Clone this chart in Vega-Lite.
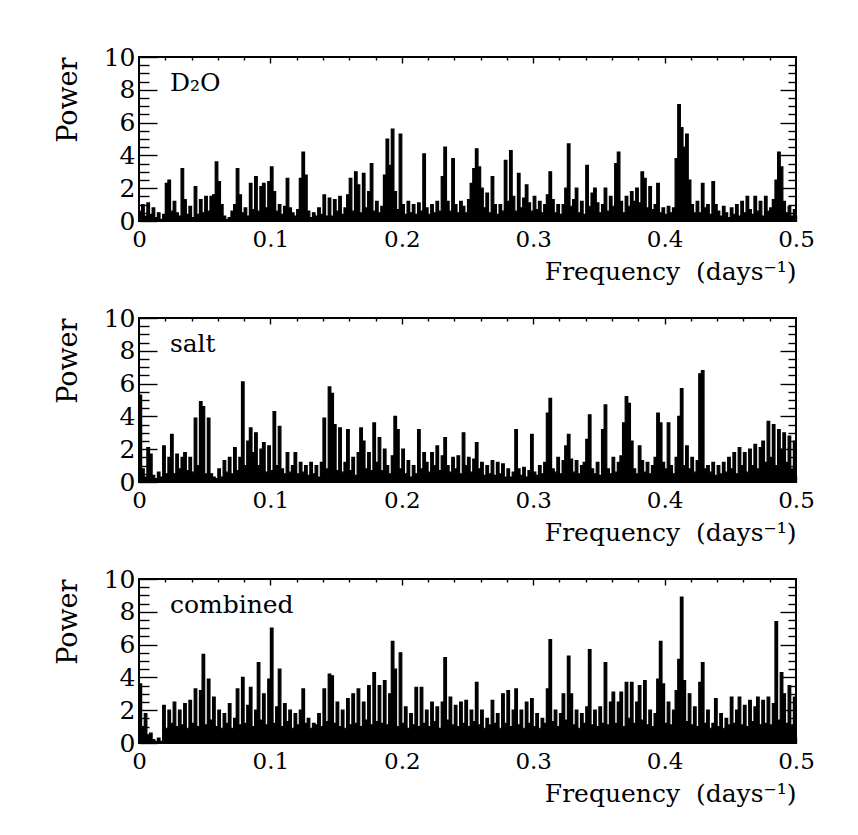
{
"$schema": "https://vega.github.io/schema/vega-lite/v6.json",
"background": "white",
"padding": {"left": 53, "top": 44, "right": 10, "bottom": 10},
"config": {
  "font": "DejaVu Serif",
  "view": {"stroke": "black", "strokeWidth": 2},
  "axis": {"grid": false, "domain": false, "tickColor": "black", "tickWidth": 1.4, "labelColor": "black", "titleColor": "black", "labelFont": "DejaVu Serif", "titleFont": "DejaVu Serif", "titleFontWeight": "normal", "labelFlush": false, "labelOverlap": false, "labelBound": false}
},
"datasets": {
"d2o": [
{"f":0.000,"p":0.6},{"f":0.002,"p":1.0},{"f":0.004,"p":0.3},{"f":0.006,"p":1.1},{"f":0.008,"p":0.4},{"f":0.010,"p":0.8},{"f":0.012,"p":0.2},{"f":0.014,"p":0.5},{"f":0.016,"p":0.1},{"f":0.018,"p":0.4},
{"f":0.020,"p":2.3},{"f":0.022,"p":2.5},{"f":0.024,"p":0.6},{"f":0.026,"p":1.2},{"f":0.028,"p":0.5},{"f":0.030,"p":0.3},{"f":0.032,"p":3.2},{"f":0.034,"p":1.3},{"f":0.036,"p":0.4},{"f":0.038,"p":0.9},
{"f":0.040,"p":0.2},{"f":0.042,"p":2.1},{"f":0.044,"p":0.4},{"f":0.046,"p":1.3},{"f":0.048,"p":0.5},{"f":0.050,"p":1.5},{"f":0.052,"p":0.6},{"f":0.054,"p":1.5},{"f":0.056,"p":1.6},{"f":0.058,"p":3.6},
{"f":0.060,"p":2.4},{"f":0.062,"p":1.0},{"f":0.064,"p":0.3},{"f":0.066,"p":0.1},{"f":0.068,"p":0.2},{"f":0.070,"p":0.6},{"f":0.072,"p":1.0},{"f":0.074,"p":3.2},{"f":0.076,"p":1.6},{"f":0.078,"p":0.5},
{"f":0.080,"p":0.8},{"f":0.082,"p":0.3},{"f":0.084,"p":2.3},{"f":0.086,"p":0.7},{"f":0.088,"p":2.7},{"f":0.090,"p":0.6},{"f":0.092,"p":2.1},{"f":0.094,"p":2.3},{"f":0.096,"p":0.8},{"f":0.098,"p":2.4},
{"f":0.100,"p":3.3},{"f":0.102,"p":1.8},{"f":0.104,"p":0.6},{"f":0.106,"p":1.0},{"f":0.108,"p":0.4},{"f":0.110,"p":0.9},{"f":0.112,"p":2.6},{"f":0.114,"p":0.8},{"f":0.116,"p":0.5},{"f":0.118,"p":0.3},
{"f":0.120,"p":0.7},{"f":0.122,"p":2.6},{"f":0.124,"p":4.2},{"f":0.126,"p":2.8},{"f":0.128,"p":0.6},{"f":0.130,"p":0.2},{"f":0.132,"p":0.5},{"f":0.134,"p":0.3},{"f":0.136,"p":0.8},{"f":0.138,"p":0.4},
{"f":0.140,"p":1.6},{"f":0.142,"p":0.3},{"f":0.144,"p":1.4},{"f":0.146,"p":0.3},{"f":0.148,"p":1.3},{"f":0.150,"p":0.6},{"f":0.152,"p":1.5},{"f":0.154,"p":0.4},{"f":0.156,"p":0.8},{"f":0.158,"p":1.6},
{"f":0.160,"p":2.6},{"f":0.162,"p":0.6},{"f":0.164,"p":3.0},{"f":0.166,"p":2.2},{"f":0.168,"p":0.5},{"f":0.170,"p":2.9},{"f":0.172,"p":0.8},{"f":0.174,"p":1.8},{"f":0.176,"p":3.5},{"f":0.178,"p":0.6},
{"f":0.180,"p":1.2},{"f":0.182,"p":0.5},{"f":0.184,"p":0.9},{"f":0.186,"p":2.8},{"f":0.188,"p":5.0},{"f":0.190,"p":3.4},{"f":0.192,"p":5.6},{"f":0.194,"p":1.8},{"f":0.196,"p":0.7},{"f":0.198,"p":5.3},
{"f":0.200,"p":1.0},{"f":0.202,"p":0.4},{"f":0.204,"p":1.2},{"f":0.206,"p":0.5},{"f":0.208,"p":1.0},{"f":0.210,"p":0.4},{"f":0.212,"p":1.1},{"f":0.214,"p":0.6},{"f":0.216,"p":4.1},{"f":0.218,"p":0.8},
{"f":0.220,"p":0.4},{"f":0.222,"p":1.0},{"f":0.224,"p":0.5},{"f":0.226,"p":1.2},{"f":0.228,"p":0.6},{"f":0.230,"p":2.7},{"f":0.232,"p":4.5},{"f":0.234,"p":1.2},{"f":0.236,"p":0.6},{"f":0.238,"p":3.8},
{"f":0.240,"p":1.0},{"f":0.242,"p":0.5},{"f":0.244,"p":1.2},{"f":0.246,"p":0.9},{"f":0.248,"p":0.5},{"f":0.250,"p":1.3},{"f":0.252,"p":2.3},{"f":0.254,"p":3.2},{"f":0.256,"p":4.4},{"f":0.258,"p":3.3},
{"f":0.260,"p":2.0},{"f":0.262,"p":0.8},{"f":0.264,"p":1.7},{"f":0.266,"p":0.5},{"f":0.268,"p":2.7},{"f":0.270,"p":1.0},{"f":0.272,"p":0.4},{"f":0.274,"p":1.0},{"f":0.276,"p":0.6},{"f":0.278,"p":3.7},
{"f":0.280,"p":1.2},{"f":0.282,"p":4.3},{"f":0.284,"p":1.5},{"f":0.286,"p":0.6},{"f":0.288,"p":2.9},{"f":0.290,"p":0.8},{"f":0.292,"p":1.4},{"f":0.294,"p":2.2},{"f":0.296,"p":1.1},{"f":0.298,"p":0.6},
{"f":0.300,"p":1.5},{"f":0.302,"p":0.7},{"f":0.304,"p":1.2},{"f":0.306,"p":0.5},{"f":0.308,"p":1.0},{"f":0.310,"p":1.6},{"f":0.312,"p":3.0},{"f":0.314,"p":1.3},{"f":0.316,"p":0.5},{"f":0.318,"p":1.0},
{"f":0.320,"p":0.4},{"f":0.322,"p":1.0},{"f":0.324,"p":2.0},{"f":0.326,"p":4.7},{"f":0.328,"p":0.9},{"f":0.330,"p":1.3},{"f":0.332,"p":2.0},{"f":0.334,"p":0.5},{"f":0.336,"p":1.2},{"f":0.338,"p":0.4},
{"f":0.340,"p":3.4},{"f":0.342,"p":0.9},{"f":0.344,"p":1.7},{"f":0.346,"p":2.0},{"f":0.348,"p":1.1},{"f":0.350,"p":0.5},{"f":0.352,"p":1.0},{"f":0.354,"p":2.0},{"f":0.356,"p":0.6},{"f":0.358,"p":1.5},
{"f":0.360,"p":0.9},{"f":0.362,"p":3.5},{"f":0.364,"p":4.2},{"f":0.366,"p":1.2},{"f":0.368,"p":0.5},{"f":0.370,"p":1.5},{"f":0.372,"p":0.9},{"f":0.374,"p":1.8},{"f":0.376,"p":1.2},{"f":0.378,"p":2.0},
{"f":0.380,"p":1.1},{"f":0.382,"p":3.0},{"f":0.384,"p":2.6},{"f":0.386,"p":0.8},{"f":0.388,"p":2.1},{"f":0.390,"p":0.7},{"f":0.392,"p":1.0},{"f":0.394,"p":2.3},{"f":0.396,"p":0.5},{"f":0.398,"p":0.8},
{"f":0.400,"p":0.4},{"f":0.402,"p":0.9},{"f":0.404,"p":0.5},{"f":0.406,"p":0.8},{"f":0.408,"p":3.8},{"f":0.410,"p":7.1},{"f":0.412,"p":5.7},{"f":0.414,"p":4.5},{"f":0.416,"p":5.3},{"f":0.418,"p":2.5},
{"f":0.420,"p":1.0},{"f":0.422,"p":0.5},{"f":0.424,"p":1.2},{"f":0.426,"p":0.5},{"f":0.428,"p":2.3},{"f":0.430,"p":0.8},{"f":0.432,"p":1.0},{"f":0.434,"p":0.4},{"f":0.436,"p":2.4},{"f":0.438,"p":1.0},
{"f":0.440,"p":0.6},{"f":0.442,"p":0.3},{"f":0.444,"p":0.9},{"f":0.446,"p":0.5},{"f":0.448,"p":0.2},{"f":0.450,"p":0.8},{"f":0.452,"p":0.4},{"f":0.454,"p":1.0},{"f":0.456,"p":0.3},{"f":0.458,"p":1.2},
{"f":0.460,"p":0.5},{"f":0.462,"p":1.5},{"f":0.464,"p":0.7},{"f":0.466,"p":0.4},{"f":0.468,"p":1.5},{"f":0.470,"p":0.6},{"f":0.472,"p":1.2},{"f":0.474,"p":0.3},{"f":0.476,"p":1.5},{"f":0.478,"p":0.6},
{"f":0.480,"p":0.8},{"f":0.482,"p":1.3},{"f":0.484,"p":2.5},{"f":0.486,"p":4.2},{"f":0.488,"p":3.3},{"f":0.490,"p":1.2},{"f":0.492,"p":0.5},{"f":0.494,"p":0.9},{"f":0.496,"p":0.3},{"f":0.498,"p":0.7},
{"f":0.500,"p":0.5}
],
"salt": [
{"f":0.000,"p":5.3},{"f":0.002,"p":0.8},{"f":0.004,"p":0.3},{"f":0.006,"p":2.1},{"f":0.008,"p":1.7},{"f":0.010,"p":0.4},{"f":0.012,"p":0.2},{"f":0.014,"p":0.6},{"f":0.016,"p":0.3},{"f":0.018,"p":2.2},
{"f":0.020,"p":0.5},{"f":0.022,"p":1.5},{"f":0.024,"p":2.9},{"f":0.026,"p":0.5},{"f":0.028,"p":1.7},{"f":0.030,"p":0.8},{"f":0.032,"p":1.5},{"f":0.034,"p":1.8},{"f":0.036,"p":0.7},{"f":0.038,"p":1.5},
{"f":0.040,"p":0.6},{"f":0.042,"p":3.9},{"f":0.044,"p":1.0},{"f":0.046,"p":4.9},{"f":0.048,"p":4.6},{"f":0.050,"p":0.5},{"f":0.052,"p":3.9},{"f":0.054,"p":0.5},{"f":0.056,"p":0.3},{"f":0.058,"p":0.2},
{"f":0.060,"p":0.8},{"f":0.062,"p":0.3},{"f":0.064,"p":1.3},{"f":0.066,"p":0.6},{"f":0.068,"p":1.5},{"f":0.070,"p":0.5},{"f":0.072,"p":2.1},{"f":0.074,"p":0.7},{"f":0.076,"p":1.5},{"f":0.078,"p":6.1},
{"f":0.080,"p":1.0},{"f":0.082,"p":2.5},{"f":0.084,"p":3.3},{"f":0.086,"p":1.8},{"f":0.088,"p":3.0},{"f":0.090,"p":1.0},{"f":0.092,"p":2.0},{"f":0.094,"p":2.4},{"f":0.096,"p":0.6},{"f":0.098,"p":2.2},
{"f":0.100,"p":0.7},{"f":0.102,"p":4.3},{"f":0.104,"p":1.0},{"f":0.106,"p":3.4},{"f":0.108,"p":0.8},{"f":0.110,"p":0.5},{"f":0.112,"p":1.8},{"f":0.114,"p":0.6},{"f":0.116,"p":1.0},{"f":0.118,"p":1.8},
{"f":0.120,"p":0.5},{"f":0.122,"p":1.2},{"f":0.124,"p":0.6},{"f":0.126,"p":1.0},{"f":0.128,"p":0.4},{"f":0.130,"p":1.2},{"f":0.132,"p":0.5},{"f":0.134,"p":1.0},{"f":0.136,"p":0.3},{"f":0.138,"p":1.2},
{"f":0.140,"p":3.9},{"f":0.142,"p":0.8},{"f":0.144,"p":5.8},{"f":0.146,"p":5.4},{"f":0.148,"p":3.5},{"f":0.150,"p":0.7},{"f":0.152,"p":3.3},{"f":0.154,"p":0.6},{"f":0.156,"p":1.2},{"f":0.158,"p":3.2},
{"f":0.160,"p":0.7},{"f":0.162,"p":1.5},{"f":0.164,"p":0.4},{"f":0.166,"p":1.8},{"f":0.168,"p":3.3},{"f":0.170,"p":2.5},{"f":0.172,"p":0.8},{"f":0.174,"p":1.8},{"f":0.176,"p":0.7},{"f":0.178,"p":3.6},
{"f":0.180,"p":1.2},{"f":0.182,"p":2.7},{"f":0.184,"p":0.7},{"f":0.186,"p":2.0},{"f":0.188,"p":1.0},{"f":0.190,"p":0.5},{"f":0.192,"p":1.6},{"f":0.194,"p":4.0},{"f":0.196,"p":3.2},{"f":0.198,"p":0.8},
{"f":0.200,"p":2.0},{"f":0.202,"p":0.5},{"f":0.204,"p":1.3},{"f":0.206,"p":0.3},{"f":0.208,"p":1.0},{"f":0.210,"p":0.5},{"f":0.212,"p":3.2},{"f":0.214,"p":0.8},{"f":0.216,"p":1.8},{"f":0.218,"p":1.2},
{"f":0.220,"p":0.6},{"f":0.222,"p":1.8},{"f":0.224,"p":1.0},{"f":0.226,"p":2.2},{"f":0.228,"p":0.7},{"f":0.230,"p":1.6},{"f":0.232,"p":2.7},{"f":0.234,"p":1.0},{"f":0.236,"p":0.6},{"f":0.238,"p":1.5},
{"f":0.240,"p":0.8},{"f":0.242,"p":1.6},{"f":0.244,"p":0.5},{"f":0.246,"p":3.0},{"f":0.248,"p":1.0},{"f":0.250,"p":1.5},{"f":0.252,"p":0.6},{"f":0.254,"p":1.4},{"f":0.256,"p":2.4},{"f":0.258,"p":0.8},
{"f":0.260,"p":1.2},{"f":0.262,"p":0.4},{"f":0.264,"p":1.0},{"f":0.266,"p":0.5},{"f":0.268,"p":1.3},{"f":0.270,"p":0.4},{"f":0.272,"p":1.2},{"f":0.274,"p":0.5},{"f":0.276,"p":1.1},{"f":0.278,"p":0.3},
{"f":0.280,"p":0.8},{"f":0.282,"p":0.3},{"f":0.284,"p":0.6},{"f":0.286,"p":3.2},{"f":0.288,"p":0.8},{"f":0.290,"p":0.4},{"f":0.292,"p":0.9},{"f":0.294,"p":0.3},{"f":0.296,"p":0.7},{"f":0.298,"p":2.9},
{"f":0.300,"p":0.6},{"f":0.302,"p":0.4},{"f":0.304,"p":1.0},{"f":0.306,"p":0.5},{"f":0.308,"p":1.2},{"f":0.310,"p":4.2},{"f":0.312,"p":5.1},{"f":0.314,"p":0.8},{"f":0.316,"p":0.6},{"f":0.318,"p":1.5},
{"f":0.320,"p":0.5},{"f":0.322,"p":1.3},{"f":0.324,"p":2.2},{"f":0.326,"p":2.9},{"f":0.328,"p":1.4},{"f":0.330,"p":0.6},{"f":0.332,"p":1.3},{"f":0.334,"p":0.5},{"f":0.336,"p":1.0},{"f":0.338,"p":1.2},
{"f":0.340,"p":2.6},{"f":0.342,"p":4.1},{"f":0.344,"p":0.8},{"f":0.346,"p":0.5},{"f":0.348,"p":1.2},{"f":0.350,"p":0.4},{"f":0.352,"p":3.2},{"f":0.354,"p":4.7},{"f":0.356,"p":0.8},{"f":0.358,"p":0.5},
{"f":0.360,"p":1.5},{"f":0.362,"p":0.6},{"f":0.364,"p":1.2},{"f":0.366,"p":1.6},{"f":0.368,"p":3.6},{"f":0.370,"p":5.2},{"f":0.372,"p":4.8},{"f":0.374,"p":2.5},{"f":0.376,"p":0.8},{"f":0.378,"p":0.5},
{"f":0.380,"p":2.2},{"f":0.382,"p":1.3},{"f":0.384,"p":0.6},{"f":0.386,"p":1.2},{"f":0.388,"p":0.5},{"f":0.390,"p":1.0},{"f":0.392,"p":1.5},{"f":0.394,"p":4.2},{"f":0.396,"p":3.6},{"f":0.398,"p":1.2},
{"f":0.400,"p":0.8},{"f":0.402,"p":3.6},{"f":0.404,"p":1.0},{"f":0.406,"p":0.5},{"f":0.408,"p":1.5},{"f":0.410,"p":4.0},{"f":0.412,"p":5.7},{"f":0.414,"p":1.0},{"f":0.416,"p":2.2},{"f":0.418,"p":0.8},
{"f":0.420,"p":1.5},{"f":0.422,"p":0.6},{"f":0.424,"p":1.3},{"f":0.426,"p":6.6},{"f":0.428,"p":6.8},{"f":0.430,"p":0.8},{"f":0.432,"p":1.0},{"f":0.434,"p":0.6},{"f":0.436,"p":1.2},{"f":0.438,"p":0.4},
{"f":0.440,"p":1.0},{"f":0.442,"p":0.5},{"f":0.444,"p":1.2},{"f":0.446,"p":0.6},{"f":0.448,"p":1.5},{"f":0.450,"p":0.8},{"f":0.452,"p":1.8},{"f":0.454,"p":0.5},{"f":0.456,"p":2.1},{"f":0.458,"p":1.0},
{"f":0.460,"p":1.8},{"f":0.462,"p":0.6},{"f":0.464,"p":2.0},{"f":0.466,"p":1.0},{"f":0.468,"p":2.3},{"f":0.470,"p":0.8},{"f":0.472,"p":2.1},{"f":0.474,"p":2.5},{"f":0.476,"p":1.2},{"f":0.478,"p":3.7},
{"f":0.480,"p":1.5},{"f":0.482,"p":3.5},{"f":0.484,"p":1.0},{"f":0.486,"p":3.2},{"f":0.488,"p":2.0},{"f":0.490,"p":3.0},{"f":0.492,"p":1.2},{"f":0.494,"p":2.8},{"f":0.496,"p":0.8},{"f":0.498,"p":2.5},
{"f":0.500,"p":1.5}
],
"comb": [
{"f":0.000,"p":3.6},{"f":0.002,"p":1.0},{"f":0.004,"p":1.8},{"f":0.006,"p":0.5},{"f":0.008,"p":0.6},{"f":0.010,"p":0.2},{"f":0.012,"p":0.1},{"f":0.014,"p":0.3},{"f":0.016,"p":0.1},{"f":0.018,"p":2.3},
{"f":0.020,"p":0.9},{"f":0.022,"p":2.0},{"f":0.024,"p":1.2},{"f":0.026,"p":2.5},{"f":0.028,"p":1.0},{"f":0.030,"p":2.0},{"f":0.032,"p":1.1},{"f":0.034,"p":2.4},{"f":0.036,"p":0.9},{"f":0.038,"p":2.6},
{"f":0.040,"p":1.2},{"f":0.042,"p":3.3},{"f":0.044,"p":1.0},{"f":0.046,"p":3.2},{"f":0.048,"p":5.4},{"f":0.050,"p":1.1},{"f":0.052,"p":3.9},{"f":0.054,"p":1.4},{"f":0.056,"p":2.8},{"f":0.058,"p":1.0},
{"f":0.060,"p":2.0},{"f":0.062,"p":0.9},{"f":0.064,"p":1.8},{"f":0.066,"p":1.2},{"f":0.068,"p":2.4},{"f":0.070,"p":0.9},{"f":0.072,"p":1.5},{"f":0.074,"p":3.3},{"f":0.076,"p":1.1},{"f":0.078,"p":4.0},
{"f":0.080,"p":1.2},{"f":0.082,"p":2.3},{"f":0.084,"p":3.4},{"f":0.086,"p":1.0},{"f":0.088,"p":2.0},{"f":0.090,"p":4.9},{"f":0.092,"p":1.4},{"f":0.094,"p":3.0},{"f":0.096,"p":1.1},{"f":0.098,"p":3.9},
{"f":0.100,"p":7.0},{"f":0.102,"p":1.2},{"f":0.104,"p":2.2},{"f":0.106,"p":4.5},{"f":0.108,"p":1.0},{"f":0.110,"p":2.4},{"f":0.112,"p":1.3},{"f":0.114,"p":2.0},{"f":0.116,"p":0.9},{"f":0.118,"p":1.8},
{"f":0.120,"p":1.1},{"f":0.122,"p":2.0},{"f":0.124,"p":3.3},{"f":0.126,"p":1.2},{"f":0.128,"p":1.5},{"f":0.130,"p":0.9},{"f":0.132,"p":1.2},{"f":0.134,"p":1.1},{"f":0.136,"p":1.8},{"f":0.138,"p":1.0},
{"f":0.140,"p":3.3},{"f":0.142,"p":1.3},{"f":0.144,"p":4.2},{"f":0.146,"p":4.1},{"f":0.148,"p":1.2},{"f":0.150,"p":2.5},{"f":0.152,"p":1.0},{"f":0.154,"p":2.0},{"f":0.156,"p":0.9},{"f":0.158,"p":2.7},
{"f":0.160,"p":1.1},{"f":0.162,"p":3.0},{"f":0.164,"p":1.2},{"f":0.166,"p":3.3},{"f":0.168,"p":1.0},{"f":0.170,"p":2.5},{"f":0.172,"p":1.4},{"f":0.174,"p":3.5},{"f":0.176,"p":1.1},{"f":0.178,"p":4.3},
{"f":0.180,"p":1.3},{"f":0.182,"p":3.5},{"f":0.184,"p":1.2},{"f":0.186,"p":3.8},{"f":0.188,"p":1.1},{"f":0.190,"p":3.0},{"f":0.192,"p":6.2},{"f":0.194,"p":4.5},{"f":0.196,"p":1.0},{"f":0.198,"p":5.5},
{"f":0.200,"p":1.2},{"f":0.202,"p":2.2},{"f":0.204,"p":0.9},{"f":0.206,"p":1.8},{"f":0.208,"p":1.1},{"f":0.210,"p":3.4},{"f":0.212,"p":1.0},{"f":0.214,"p":3.4},{"f":0.216,"p":1.2},{"f":0.218,"p":2.0},
{"f":0.220,"p":1.0},{"f":0.222,"p":2.5},{"f":0.224,"p":1.3},{"f":0.226,"p":2.2},{"f":0.228,"p":0.9},{"f":0.230,"p":2.5},{"f":0.232,"p":5.2},{"f":0.234,"p":1.4},{"f":0.236,"p":2.8},{"f":0.238,"p":1.1},
{"f":0.240,"p":2.3},{"f":0.242,"p":1.0},{"f":0.244,"p":2.5},{"f":0.246,"p":1.2},{"f":0.248,"p":2.6},{"f":0.250,"p":1.0},{"f":0.252,"p":2.0},{"f":0.254,"p":1.3},{"f":0.256,"p":3.7},{"f":0.258,"p":1.1},
{"f":0.260,"p":2.0},{"f":0.262,"p":0.9},{"f":0.264,"p":1.5},{"f":0.266,"p":1.1},{"f":0.268,"p":2.6},{"f":0.270,"p":1.2},{"f":0.272,"p":1.8},{"f":0.274,"p":0.9},{"f":0.276,"p":3.0},{"f":0.278,"p":1.2},
{"f":0.280,"p":3.2},{"f":0.282,"p":1.0},{"f":0.284,"p":2.0},{"f":0.286,"p":3.3},{"f":0.288,"p":1.1},{"f":0.290,"p":2.0},{"f":0.292,"p":0.9},{"f":0.294,"p":2.5},{"f":0.296,"p":1.2},{"f":0.298,"p":2.7},
{"f":0.300,"p":1.0},{"f":0.302,"p":1.8},{"f":0.304,"p":0.9},{"f":0.306,"p":1.5},{"f":0.308,"p":1.2},{"f":0.310,"p":3.3},{"f":0.312,"p":6.3},{"f":0.314,"p":1.3},{"f":0.316,"p":2.0},{"f":0.318,"p":1.0},
{"f":0.320,"p":1.8},{"f":0.322,"p":3.0},{"f":0.324,"p":1.4},{"f":0.326,"p":5.3},{"f":0.328,"p":3.0},{"f":0.330,"p":1.1},{"f":0.332,"p":2.0},{"f":0.334,"p":0.9},{"f":0.336,"p":1.8},{"f":0.338,"p":1.2},
{"f":0.340,"p":2.2},{"f":0.342,"p":5.7},{"f":0.344,"p":1.1},{"f":0.346,"p":2.0},{"f":0.348,"p":1.0},{"f":0.350,"p":2.2},{"f":0.352,"p":1.2},{"f":0.354,"p":4.9},{"f":0.356,"p":1.1},{"f":0.358,"p":2.5},
{"f":0.360,"p":3.1},{"f":0.362,"p":1.2},{"f":0.364,"p":2.5},{"f":0.366,"p":3.1},{"f":0.368,"p":1.0},{"f":0.370,"p":3.7},{"f":0.372,"p":1.5},{"f":0.374,"p":3.7},{"f":0.376,"p":1.2},{"f":0.378,"p":2.5},
{"f":0.380,"p":3.5},{"f":0.382,"p":1.4},{"f":0.384,"p":3.8},{"f":0.386,"p":1.1},{"f":0.388,"p":2.0},{"f":0.390,"p":1.0},{"f":0.392,"p":1.8},{"f":0.394,"p":3.9},{"f":0.396,"p":6.2},{"f":0.398,"p":3.6},
{"f":0.400,"p":1.2},{"f":0.402,"p":2.5},{"f":0.404,"p":1.1},{"f":0.406,"p":2.0},{"f":0.408,"p":3.2},{"f":0.410,"p":5.1},{"f":0.412,"p":8.9},{"f":0.414,"p":3.8},{"f":0.416,"p":1.3},{"f":0.418,"p":3.0},
{"f":0.420,"p":1.1},{"f":0.422,"p":2.2},{"f":0.424,"p":1.0},{"f":0.426,"p":3.7},{"f":0.428,"p":4.9},{"f":0.430,"p":1.2},{"f":0.432,"p":2.0},{"f":0.434,"p":0.9},{"f":0.436,"p":1.2},{"f":0.438,"p":2.7},
{"f":0.440,"p":1.0},{"f":0.442,"p":1.8},{"f":0.444,"p":0.9},{"f":0.446,"p":1.5},{"f":0.448,"p":1.1},{"f":0.450,"p":2.8},{"f":0.452,"p":1.2},{"f":0.454,"p":2.0},{"f":0.456,"p":2.8},{"f":0.458,"p":1.1},
{"f":0.460,"p":2.3},{"f":0.462,"p":1.0},{"f":0.464,"p":2.6},{"f":0.466,"p":1.3},{"f":0.468,"p":2.2},{"f":0.470,"p":2.8},{"f":0.472,"p":1.1},{"f":0.474,"p":2.6},{"f":0.476,"p":1.2},{"f":0.478,"p":2.8},
{"f":0.480,"p":1.1},{"f":0.482,"p":2.4},{"f":0.484,"p":7.4},{"f":0.486,"p":1.4},{"f":0.488,"p":4.3},{"f":0.490,"p":3.0},{"f":0.492,"p":1.2},{"f":0.494,"p":3.5},{"f":0.496,"p":1.1},{"f":0.498,"p":2.8},
{"f":0.500,"p":1.5}
]
},
"spacing": 97,
"bounds": "flush",
"vconcat": [
{
 "width": 657, "height": 164,
 "data": {"name": "d2o"},
 "layer": [
  {"mark": {"type": "area", "interpolate": "step-after", "color": "black", "opacity": 1, "fillOpacity": 1, "line": {"color": "black", "strokeWidth": 1.2}},
   "encoding": {
    "x": {"field": "f", "type": "quantitative", "scale": {"domain": [0, 0.5], "nice": false, "zero": false},
          "axis": {"orient": "bottom", "values": [0,0.1,0.2,0.3,0.4,0.5], "format": ".1~f", "tickSize": -6, "labelFontSize": 23, "labelPadding": 13, "title": "Frequency \u00a0(days⁻¹)", "titleFontSize": 25, "titleAnchor": "end", "titlePadding": 8}},
    "y": {"field": "p", "type": "quantitative", "scale": {"domain": [0, 10], "nice": false},
          "axis": {"orient": "left", "values": [0,2,4,6,8,10], "tickSize": -18, "labelFontSize": 25, "labelPadding": 22, "title": "Power", "titleFontSize": 27, "titleAnchor": "end", "titlePadding": 21}}
   }},
  {"mark": {"type": "line", "opacity": 0},
   "encoding": {
    "x": {"field": "f", "type": "quantitative", "scale": {"domain": [0, 0.5], "nice": false, "zero": false},
          "axis": {"orient": "bottom", "values": [0.02,0.04,0.06,0.08,0.12,0.14,0.16,0.18,0.22,0.24,0.26,0.28,0.32,0.34,0.36,0.38,0.42,0.44,0.46,0.48], "tickSize": -3, "labels": false, "title": null}},
    "y": {"field": "p", "type": "quantitative", "scale": {"domain": [0, 10], "nice": false},
          "axis": {"orient": "left", "values": [0.5,1,1.5,2.5,3,3.5,4.5,5,5.5,6.5,7,7.5,8.5,9,9.5], "tickSize": -10, "labels": false, "title": null}}
   }},
  {"mark": {"type": "line", "opacity": 0},
   "encoding": {
    "x": {"field": "f", "type": "quantitative", "scale": {"domain": [0, 0.5], "nice": false, "zero": false},
          "axis": {"orient": "top", "values": [0.1,0.2,0.3,0.4], "tickSize": -6, "labels": false, "title": null}},
    "y": {"field": "p", "type": "quantitative", "scale": {"domain": [0, 10], "nice": false},
          "axis": {"orient": "right", "values": [2,4,6,8], "tickSize": -16, "labels": false, "title": null}}
   }},
  {"mark": {"type": "line", "opacity": 0},
   "encoding": {
    "x": {"field": "f", "type": "quantitative", "scale": {"domain": [0, 0.5], "nice": false, "zero": false},
          "axis": {"orient": "top", "values": [0.02,0.04,0.06,0.08,0.12,0.14,0.16,0.18,0.22,0.24,0.26,0.28,0.32,0.34,0.36,0.38,0.42,0.44,0.46,0.48], "tickSize": -3, "labels": false, "title": null}},
    "y": {"field": "p", "type": "quantitative", "scale": {"domain": [0, 10], "nice": false},
          "axis": {"orient": "right", "values": [0.5,1,1.5,2.5,3,3.5,4.5,5,5.5,6.5,7,7.5,8.5,9,9.5], "tickSize": -8, "labels": false, "title": null}}
   }},
  {"data": {"values": [{"f": 0.0235, "p": 7.9, "t": "D₂O"}]},
   "mark": {"type": "text", "align": "left", "baseline": "alphabetic", "fontSize": 25, "color": "black", "font": "DejaVu Serif"},
   "encoding": {
    "x": {"field": "f", "type": "quantitative", "scale": {"domain": [0, 0.5], "nice": false, "zero": false}, "axis": null},
    "y": {"field": "p", "type": "quantitative", "scale": {"domain": [0, 10], "nice": false}, "axis": null},
    "text": {"field": "t"}
   }}
 ],
 "resolve": {"axis": {"x": "independent", "y": "independent"}}
},
{
 "width": 657, "height": 164,
 "data": {"name": "salt"},
 "layer": [
  {"mark": {"type": "area", "interpolate": "step-after", "color": "black", "opacity": 1, "fillOpacity": 1, "line": {"color": "black", "strokeWidth": 1.2}},
   "encoding": {
    "x": {"field": "f", "type": "quantitative", "scale": {"domain": [0, 0.5], "nice": false, "zero": false},
          "axis": {"orient": "bottom", "values": [0,0.1,0.2,0.3,0.4,0.5], "format": ".1~f", "tickSize": -6, "labelFontSize": 23, "labelPadding": 13, "title": "Frequency \u00a0(days⁻¹)", "titleFontSize": 25, "titleAnchor": "end", "titlePadding": 8}},
    "y": {"field": "p", "type": "quantitative", "scale": {"domain": [0, 10], "nice": false},
          "axis": {"orient": "left", "values": [0,2,4,6,8,10], "tickSize": -18, "labelFontSize": 25, "labelPadding": 22, "title": "Power", "titleFontSize": 27, "titleAnchor": "end", "titlePadding": 21}}
   }},
  {"mark": {"type": "line", "opacity": 0},
   "encoding": {
    "x": {"field": "f", "type": "quantitative", "scale": {"domain": [0, 0.5], "nice": false, "zero": false},
          "axis": {"orient": "bottom", "values": [0.02,0.04,0.06,0.08,0.12,0.14,0.16,0.18,0.22,0.24,0.26,0.28,0.32,0.34,0.36,0.38,0.42,0.44,0.46,0.48], "tickSize": -3, "labels": false, "title": null}},
    "y": {"field": "p", "type": "quantitative", "scale": {"domain": [0, 10], "nice": false},
          "axis": {"orient": "left", "values": [0.5,1,1.5,2.5,3,3.5,4.5,5,5.5,6.5,7,7.5,8.5,9,9.5], "tickSize": -10, "labels": false, "title": null}}
   }},
  {"mark": {"type": "line", "opacity": 0},
   "encoding": {
    "x": {"field": "f", "type": "quantitative", "scale": {"domain": [0, 0.5], "nice": false, "zero": false},
          "axis": {"orient": "top", "values": [0.1,0.2,0.3,0.4], "tickSize": -6, "labels": false, "title": null}},
    "y": {"field": "p", "type": "quantitative", "scale": {"domain": [0, 10], "nice": false},
          "axis": {"orient": "right", "values": [2,4,6,8], "tickSize": -16, "labels": false, "title": null}}
   }},
  {"mark": {"type": "line", "opacity": 0},
   "encoding": {
    "x": {"field": "f", "type": "quantitative", "scale": {"domain": [0, 0.5], "nice": false, "zero": false},
          "axis": {"orient": "top", "values": [0.02,0.04,0.06,0.08,0.12,0.14,0.16,0.18,0.22,0.24,0.26,0.28,0.32,0.34,0.36,0.38,0.42,0.44,0.46,0.48], "tickSize": -3, "labels": false, "title": null}},
    "y": {"field": "p", "type": "quantitative", "scale": {"domain": [0, 10], "nice": false},
          "axis": {"orient": "right", "values": [0.5,1,1.5,2.5,3,3.5,4.5,5,5.5,6.5,7,7.5,8.5,9,9.5], "tickSize": -8, "labels": false, "title": null}}
   }},
  {"data": {"values": [{"f": 0.0235, "p": 7.9, "t": "salt"}]},
   "mark": {"type": "text", "align": "left", "baseline": "alphabetic", "fontSize": 25, "color": "black", "font": "DejaVu Serif"},
   "encoding": {
    "x": {"field": "f", "type": "quantitative", "scale": {"domain": [0, 0.5], "nice": false, "zero": false}, "axis": null},
    "y": {"field": "p", "type": "quantitative", "scale": {"domain": [0, 10], "nice": false}, "axis": null},
    "text": {"field": "t"}
   }}
 ],
 "resolve": {"axis": {"x": "independent", "y": "independent"}}
},
{
 "width": 657, "height": 164,
 "data": {"name": "comb"},
 "layer": [
  {"mark": {"type": "area", "interpolate": "step-after", "color": "black", "opacity": 1, "fillOpacity": 1, "line": {"color": "black", "strokeWidth": 1.2}},
   "encoding": {
    "x": {"field": "f", "type": "quantitative", "scale": {"domain": [0, 0.5], "nice": false, "zero": false},
          "axis": {"orient": "bottom", "values": [0,0.1,0.2,0.3,0.4,0.5], "format": ".1~f", "tickSize": -6, "labelFontSize": 23, "labelPadding": 13, "title": "Frequency \u00a0(days⁻¹)", "titleFontSize": 25, "titleAnchor": "end", "titlePadding": 8}},
    "y": {"field": "p", "type": "quantitative", "scale": {"domain": [0, 10], "nice": false},
          "axis": {"orient": "left", "values": [0,2,4,6,8,10], "tickSize": -18, "labelFontSize": 25, "labelPadding": 22, "title": "Power", "titleFontSize": 27, "titleAnchor": "end", "titlePadding": 21}}
   }},
  {"mark": {"type": "line", "opacity": 0},
   "encoding": {
    "x": {"field": "f", "type": "quantitative", "scale": {"domain": [0, 0.5], "nice": false, "zero": false},
          "axis": {"orient": "bottom", "values": [0.02,0.04,0.06,0.08,0.12,0.14,0.16,0.18,0.22,0.24,0.26,0.28,0.32,0.34,0.36,0.38,0.42,0.44,0.46,0.48], "tickSize": -3, "labels": false, "title": null}},
    "y": {"field": "p", "type": "quantitative", "scale": {"domain": [0, 10], "nice": false},
          "axis": {"orient": "left", "values": [0.5,1,1.5,2.5,3,3.5,4.5,5,5.5,6.5,7,7.5,8.5,9,9.5], "tickSize": -10, "labels": false, "title": null}}
   }},
  {"mark": {"type": "line", "opacity": 0},
   "encoding": {
    "x": {"field": "f", "type": "quantitative", "scale": {"domain": [0, 0.5], "nice": false, "zero": false},
          "axis": {"orient": "top", "values": [0.1,0.2,0.3,0.4], "tickSize": -6, "labels": false, "title": null}},
    "y": {"field": "p", "type": "quantitative", "scale": {"domain": [0, 10], "nice": false},
          "axis": {"orient": "right", "values": [2,4,6,8], "tickSize": -16, "labels": false, "title": null}}
   }},
  {"mark": {"type": "line", "opacity": 0},
   "encoding": {
    "x": {"field": "f", "type": "quantitative", "scale": {"domain": [0, 0.5], "nice": false, "zero": false},
          "axis": {"orient": "top", "values": [0.02,0.04,0.06,0.08,0.12,0.14,0.16,0.18,0.22,0.24,0.26,0.28,0.32,0.34,0.36,0.38,0.42,0.44,0.46,0.48], "tickSize": -3, "labels": false, "title": null}},
    "y": {"field": "p", "type": "quantitative", "scale": {"domain": [0, 10], "nice": false},
          "axis": {"orient": "right", "values": [0.5,1,1.5,2.5,3,3.5,4.5,5,5.5,6.5,7,7.5,8.5,9,9.5], "tickSize": -8, "labels": false, "title": null}}
   }},
  {"data": {"values": [{"f": 0.0235, "p": 7.9, "t": "combined"}]},
   "mark": {"type": "text", "align": "left", "baseline": "alphabetic", "fontSize": 25, "color": "black", "font": "DejaVu Serif"},
   "encoding": {
    "x": {"field": "f", "type": "quantitative", "scale": {"domain": [0, 0.5], "nice": false, "zero": false}, "axis": null},
    "y": {"field": "p", "type": "quantitative", "scale": {"domain": [0, 10], "nice": false}, "axis": null},
    "text": {"field": "t"}
   }}
 ],
 "resolve": {"axis": {"x": "independent", "y": "independent"}}
}
]
}
